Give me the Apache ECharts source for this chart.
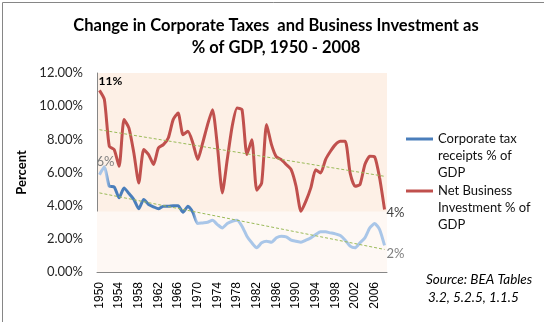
<!DOCTYPE html>
<html><head><meta charset="utf-8">
<script src="https://cdn.jsdelivr.net/npm/echarts@6/dist/echarts.min.js"></script>
<style>html,body{margin:0;padding:0;background:#fff}#c{width:544px;height:322px}</style>
</head><body><div id="c"></div>
<script>
const years = [];
for (let y = 1950; y <= 2008; y++) years.push(String(y));
const corpTax = [5.87,6.34,5.17,5.13,4.47,5.07,4.73,4.37,3.81,4.37,
  4.07,3.93,3.81,3.97,3.97,4.0,4.0,3.6,3.97,3.6,
  2.92,2.96,3.0,3.12,2.86,2.66,2.92,3.06,3.12,2.76,
  2.16,1.76,1.46,1.76,1.86,1.8,2.06,2.16,2.12,1.92,
  1.86,1.8,1.92,2.06,2.26,2.42,2.42,2.36,2.3,2.2,
  1.92,1.56,1.46,1.76,2.06,2.66,2.92,2.56,1.6];
const netInv = [10.95,10.4,7.58,7.38,6.37,9.19,8.68,7.18,5.37,7.38,
  7.08,6.48,7.48,7.68,8.08,9.19,9.59,8.28,8.48,7.78,
  6.78,7.78,8.89,9.79,7.58,4.77,6.78,8.78,9.89,9.79,
  7.08,7.98,4.93,5.37,8.89,7.68,6.94,6.78,6.48,6.17,
  5.17,3.66,4.27,5.07,6.17,5.97,6.78,7.28,7.68,7.88,
  7.88,5.97,5.17,5.27,6.48,6.98,6.94,5.67,3.77];
const corpTrend = [4.77, 1.36];   // trendline values at 1950 and 2008
const invTrend = [8.58, 5.77];
const yTicks = [0, 2, 4, 6, 8, 10, 12];
const seriesNames = ['Corporate tax receipts % of GDP', 'Net Business Investment % of GDP'];
const legendText = {
  'Corporate tax receipts % of GDP': '\n\nCorporate tax\nreceipts % of\nGDP',
  'Net Business Investment % of GDP': '\n\nNet Business\nInvestment % of\nGDP'
};

const FONT = 'Lato, "Open Sans", sans-serif';
const fmtPct = v => Math.round(v) + '%';

function withEndLabels(arr, firstLbl, lastLbl) {
  return arr.map((v, i) => {
    if (i === 0) return { value: v, label: firstLbl };
    if (i === arr.length - 1) return { value: v, label: lastLbl };
    return v;
  });
}

const chart = echarts.init(document.getElementById('c'));
const last = years.length - 1;
const legendBase = {
  orient: 'vertical', left: 406, padding: 0, icon: 'rect', itemWidth: 27, itemHeight: 3,
  formatter: n => legendText[n],
  textStyle: { fontFamily: FONT, fontSize: 13, color: '#111', lineHeight: 17 }
};
chart.setOption({
  animation: false,
  title: {
    text: 'Change in Corporate Taxes  and Business Investment as\n% of GDP, 1950 - 2008',
    left: 271, top: 10, textAlign: 'center',
    textStyle: { fontFamily: FONT, fontWeight: 'bold', fontSize: 16.5, lineHeight: 22, color: '#000' }
  },
  legend: [
    Object.assign({}, legendBase, { top: 96.5, data: [seriesNames[0]] }),
    Object.assign({}, legendBase, { top: 148.5, data: [seriesNames[1]] })
  ],
  grid: { left: 97, right: 157, top: 73, bottom: 50, show: true, backgroundColor: '#FDF0E6', borderWidth: 0 },
  xAxis: {
    type: 'category', data: years, boundaryGap: true,
    axisLine: { lineStyle: { color: '#868686', width: 1 } },
    axisTick: { show: false },
    axisLabel: { interval: 3, rotate: 90, margin: 10, fontFamily: '"Liberation Sans", Arial, sans-serif', fontSize: 12, color: '#000' }
  },
  yAxis: {
    type: 'value', min: yTicks[0], max: yTicks[yTicks.length - 1], interval: 2,
    name: 'Percent', nameLocation: 'middle', nameGap: 62, nameRotate: 90,
    nameTextStyle: { fontFamily: FONT, fontWeight: 'bold', fontSize: 13, color: '#000' },
    axisLine: { show: true, lineStyle: { color: '#868686', width: 1 } },
    axisTick: { show: false },
    splitLine: { show: false },
    axisLabel: { formatter: v => v.toFixed(2) + '%', fontFamily: FONT, fontSize: 13, color: '#262626', margin: 14 }
  },
  series: [
    {
      name: seriesNames[0], type: 'line', smooth: 0.2, symbol: 'circle', symbolSize: 0,
      showSymbol: true, showAllSymbol: true,
      lineStyle: { width: 3, color: { type: 'linear', x: 0, y: 0, x2: 1, y2: 0, colorStops: [
        { offset: 0, color: '#A9C6E8' }, { offset: 0.03, color: '#A9C6E8' },
        { offset: 0.05, color: '#4A7EBB' }, { offset: 0.33, color: '#4A7EBB' },
        { offset: 0.345, color: '#A9C6E8' }, { offset: 1, color: '#A9C6E8' } ] } },
      itemStyle: { color: '#4A7EBB' },
      data: withEndLabels(corpTax,
        { show: true, formatter: p => fmtPct(p.value), position: 'top', offset: [6, -1], fontFamily: FONT, fontSize: 13, color: '#7F7F7F' },
        { show: true, formatter: p => fmtPct(p.value), position: 'right', offset: [-3, 8], fontFamily: FONT, fontSize: 13, color: '#7F7F7F' }),
      markArea: { silent: true, itemStyle: { color: '#FEF8F4' }, data: [[{ yAxis: 0 }, { yAxis: 3.65 }]] },
      markLine: { silent: true, symbol: 'none', label: { show: false },
        lineStyle: { color: '#9BBB59', type: [3, 2], width: 1 },
        data: [[{ coord: [years[0], corpTrend[0]] }, { coord: [years[last], corpTrend[1]] }]] }
    },
    {
      name: seriesNames[1], type: 'line', smooth: 0.2, symbol: 'circle', symbolSize: 0,
      showSymbol: true, showAllSymbol: true,
      lineStyle: { width: 3, color: '#C0504D' },
      itemStyle: { color: '#C0504D' },
      data: withEndLabels(netInv,
        { show: true, formatter: p => fmtPct(p.value), position: 'top', offset: [11, 2], fontFamily: FONT, fontSize: 12, fontWeight: 'bold', color: '#000' },
        { show: true, formatter: p => fmtPct(p.value), position: 'right', offset: [-3, 3], fontFamily: FONT, fontSize: 13, color: '#404040' }),
      markLine: { silent: true, symbol: 'none', label: { show: false },
        lineStyle: { color: '#9BBB59', type: [3, 2], width: 1 },
        data: [[{ coord: [years[0], invTrend[0]] }, { coord: [years[last], invTrend[1]] }]] }
    }
  ],
  graphic: [
    { type: 'rect', left: 0, top: 0, shape: { x: 0.5, y: 0.5, width: 543, height: 320.5 }, style: { fill: 'none', stroke: '#868686', lineWidth: 1 }, silent: true },
    { type: 'text', left: 426, top: 273, style: { text: 'Source: BEA Tables', fontFamily: FONT, fontStyle: 'italic', fontSize: 13.5, fill: '#000' } },
    { type: 'text', left: 428, top: 291, style: { text: '3.2, 5.2.5, 1.1.5', fontFamily: FONT, fontStyle: 'italic', fontSize: 13.5, fill: '#000' } }
  ]
});
</script></body></html>
